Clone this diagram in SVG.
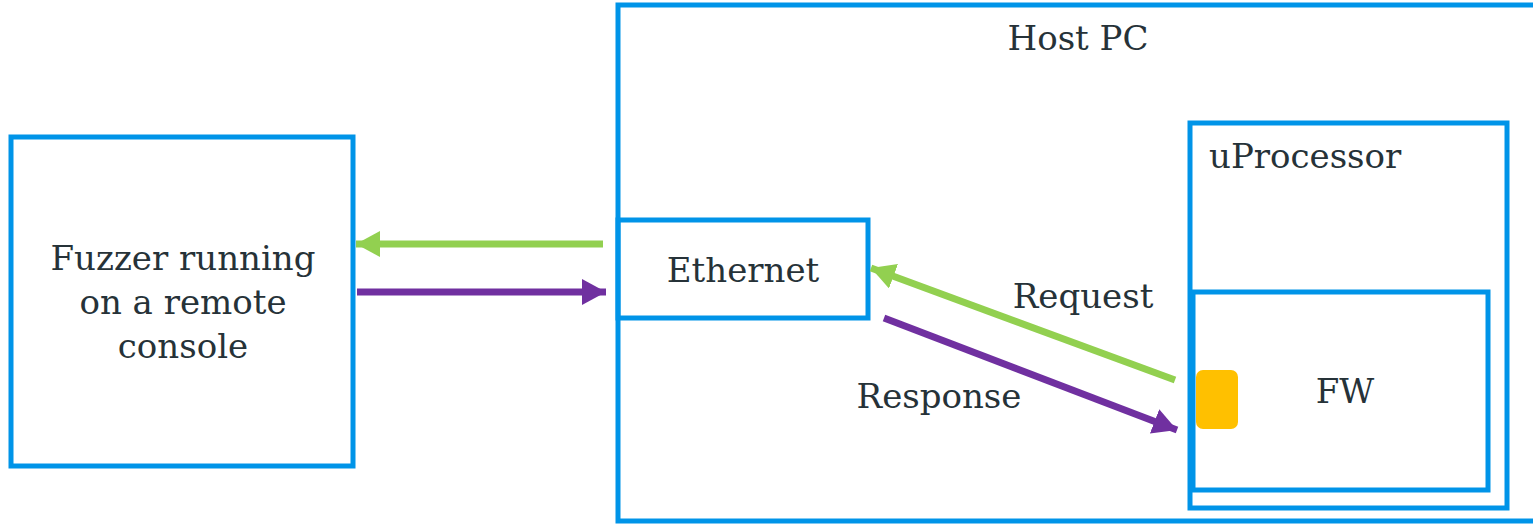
<svg xmlns="http://www.w3.org/2000/svg" width="1533" height="525" viewBox="0 0 1533 525">
<style>
.box{fill:none;stroke:#0094E8;stroke-width:5}
.t{font-family:"DejaVu Serif","Liberation Serif",serif;font-size:34px;fill:#263238}
.c{text-anchor:middle}
.g{stroke:#92D050;stroke-width:7;fill:none}
.p{stroke:#7030A0;stroke-width:7;fill:none}
</style>
<defs>
<marker id="ag" markerUnits="userSpaceOnUse" markerWidth="30" markerHeight="30" refX="24" refY="13" orient="auto"><path d="M0,0 L24,13 L0,26 Z" fill="#92D050"/></marker>
<marker id="ap" markerUnits="userSpaceOnUse" markerWidth="30" markerHeight="30" refX="24" refY="13" orient="auto"><path d="M0,0 L24,13 L0,26 Z" fill="#7030A0"/></marker>
</defs>
<rect width="1533" height="525" fill="#fff"/>
<g id="fuzzer">
<rect class="box" x="11" y="137" width="342" height="329"/>
<text class="t c" x="183" y="270">Fuzzer running</text>
<text class="t c" x="183" y="314">on a remote</text>
<text class="t c" x="183" y="358">console</text>
</g>
<g id="hostpc">
<rect class="box" x="618" y="5" width="925" height="516"/>
<text class="t c" x="1078" y="50">Host PC</text>
</g>
<g id="ethernet">
<rect class="box" x="618" y="220" width="250" height="98"/>
<text class="t c" x="743" y="282">Ethernet</text>
</g>
<g id="uprocessor">
<rect class="box" x="1190" y="123" width="317" height="385"/>
<text class="t" x="1209" y="168">uProcessor</text>
</g>
<g id="fw">
<rect class="box" x="1193" y="292" width="295" height="198"/>
<text class="t c" x="1345" y="403">FW</text>
<rect x="1196" y="370" width="42" height="59" rx="7" fill="#FFC000"/>
</g>
<g id="connectors">
<line class="g" x1="603" y1="244" x2="356" y2="244" marker-end="url(#ag)"/>
<line class="p" x1="357" y1="292" x2="606" y2="292" marker-end="url(#ap)"/>
<line class="g" x1="1175" y1="380" x2="871" y2="268" marker-end="url(#ag)"/>
<line class="p" x1="884" y1="318" x2="1177" y2="430" marker-end="url(#ap)"/>
<text class="t c" x="1083" y="308">Request</text>
<text class="t c" x="939" y="408">Response</text>
</g>
</svg>
